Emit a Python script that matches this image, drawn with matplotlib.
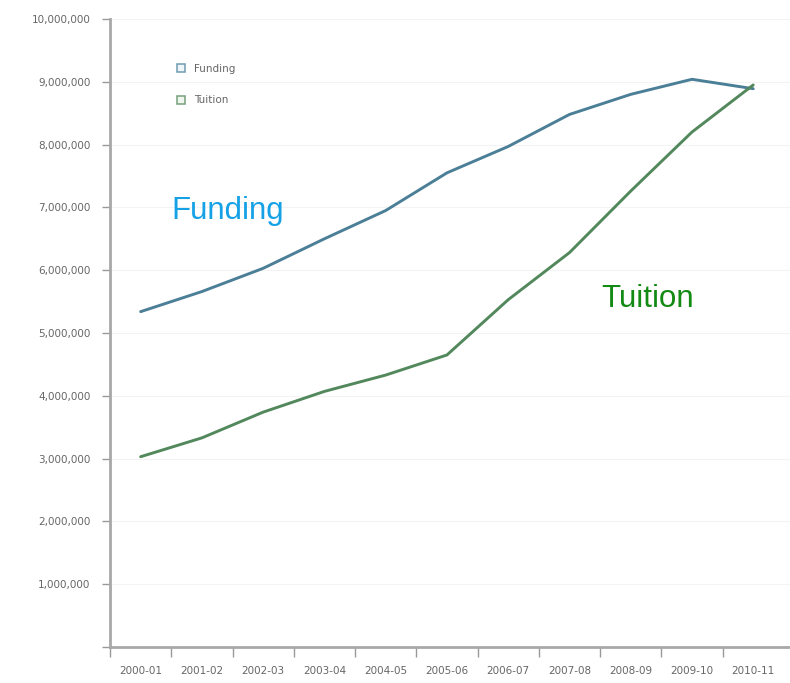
import matplotlib.pyplot as plt
from matplotlib.lines import Line2D
from matplotlib.ticker import FuncFormatter, MultipleLocator

# data
years = ['2000-01', '2001-02', '2002-03', '2003-04', '2004-05', '2005-06',
         '2006-07', '2007-08', '2008-09', '2009-10', '2010-11']
funding = [5340000, 5660000, 6030000, 6500000, 6950000, 7550000,
           7970000, 8480000, 8800000, 9040000, 8890000]
tuition = [3030000, 3330000, 3740000, 4070000, 4330000, 4650000,
           5530000, 6280000, 7260000, 8200000, 8950000]

fund_col = '#4b7f97'
tuit_col = '#52885c'

fig = plt.figure(figsize=(7.9, 6.83), dpi=100)
ax = fig.add_axes([110 / 790, 36 / 683, 1 - 110 / 790, 628 / 683])

x = range(len(years))
ax.plot(x, funding, color=fund_col, lw=2.1, solid_capstyle='round')
ax.plot(x, tuition, color=tuit_col, lw=2.1, solid_capstyle='round')

ax.set_xlim(-0.5, 10.6)
ax.set_ylim(0, 10000000)
ax.yaxis.set_major_locator(MultipleLocator(1000000))
ax.yaxis.set_major_formatter(FuncFormatter(lambda v, p: '{:,.0f}'.format(v) if v > 0 else ''))

# category labels sit between tick marks
ax.set_xticks([i - 0.5 for i in x])
ax.set_xticklabels([])
ax.set_xticks(list(x), minor=True)
ax.set_xticklabels(years, minor=True)
ax.tick_params(axis='x', which='major', length=7, width=1, color='#999999', direction='out')
ax.tick_params(axis='x', which='minor', length=0, pad=14, labelsize=7.5, labelcolor='#666666')
ax.tick_params(axis='y', length=6, width=1, color='#999999', labelsize=7.5,
               labelcolor='#666666', pad=8)

ax.grid(axis='y', color='#f3f3f3', lw=0.8)
ax.set_axisbelow(True)
for side in ['top', 'right']:
    ax.spines[side].set_visible(False)
for side in ['left', 'bottom']:
    ax.spines[side].set_color('#a8a8a8')
    ax.spines[side].set_linewidth(2)

handles = [Line2D([], [], ls='none', marker='s', ms=6, mfc='#eef6fa', mec='#6f9bb0', mew=1.1),
           Line2D([], [], ls='none', marker='s', ms=6, mfc='#eef6ee', mec='#76a07c', mew=1.1)]
leg = ax.legend(handles, ['Funding', 'Tuition'], loc='upper left',
                bbox_to_anchor=(0.075, 0.944), frameon=False, fontsize=7.5,
                handletextpad=0.3, labelspacing=2.1, labelcolor='#666666')

ax.text(171, 683 - 219, 'Funding', transform=None, fontsize=22.5,
        family='Liberation Sans', color='#14a1e6')
ax.text(601, 683 - 307, 'Tuition', transform=None, fontsize=22.5,
        family='Liberation Sans', color='#138a13')

fig.savefig('out.png', dpi=100)
